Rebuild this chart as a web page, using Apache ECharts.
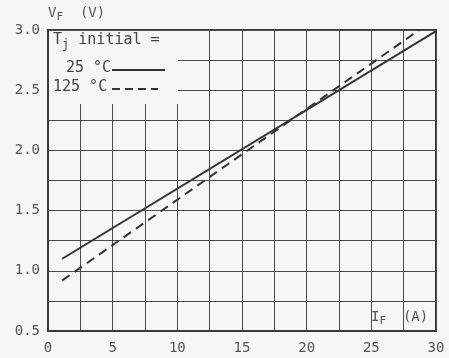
<!DOCTYPE html>
<html><head><meta charset="utf-8">
<script src="https://cdn.jsdelivr.net/npm/echarts@6/dist/echarts.min.js"></script>
<style>html,body{margin:0;padding:0;background:#f6f6f4}#c{width:449px;height:358px}</style>
</head><body><div id="c"></div>
<script>
// Data
const xTickLabels = ['0','5','10','15','20','25','30'];
const yTickLabels = ['0.5','1.0','1.5','2.0','2.5','3.0'];
const current25 = [1.1, 30];
const voltage25 = [1.10, 2.99];
const current125 = [1.1, 28.7];
const voltage125 = [0.92, 3.00];
const legendTitle = 'initial =';
const legendLabels = ['25 °C', '125 °C'];

const FONT = '"DejaVu Sans Mono", "Liberation Mono", monospace';
const INK = '#3a3a3a';
const chart = echarts.init(document.getElementById('c'));
const pairs = (xs, ys) => xs.map((x, i) => [x, ys[i]]);
const richSub = (fill, size) => ({
  a: {fontFamily: FONT, fontSize: size, fill: fill},
  s: {fontFamily: FONT, fontSize: size - 3, fill: fill, padding: [9, 0, 0, 0]}
});

chart.setOption({
  backgroundColor: '#f6f6f4',
  animation: false,
  grid: {left: 48, right: 13, top: 30, bottom: 27, show: true, borderColor: INK, borderWidth: 2, backgroundColor: 'transparent'},
  xAxis: {
    type: 'value', min: 0, max: 30, interval: 2.5,
    axisLine: {show: true, lineStyle: {color: INK, width: 2}},
    axisTick: {show: false},
    splitLine: {show: true, lineStyle: {color: '#4a4a4a', width: 1}},
    axisLabel: {
      color: '#555', fontFamily: FONT, fontSize: 14, margin: 10,
      formatter: v => (v % 5 === 0 ? xTickLabels[v / 5] : '')
    }
  },
  yAxis: {
    type: 'value', min: 0.5, max: 3.0, interval: 0.25,
    axisLine: {show: true, lineStyle: {color: INK, width: 2}},
    axisTick: {show: false},
    splitLine: {show: true, lineStyle: {color: '#4a4a4a', width: 1}},
    axisLabel: {
      color: '#555', fontFamily: FONT, fontSize: 14, margin: 8,
      formatter: v => {
        const k = Math.round((v - 0.5) / 0.5 * 1000) / 1000;
        return Number.isInteger(k) ? yTickLabels[k] : '';
      }
    }
  },
  series: [
    {type: 'line', data: pairs(current25, voltage25), symbol: 'none', z: 5,
     lineStyle: {color: '#333', width: 2, type: 'solid'}},
    {type: 'line', data: pairs(current125, voltage125), symbol: 'none', z: 5,
     lineStyle: {color: '#333', width: 2, type: [9, 6]}}
  ],
  graphic: [
    {type: 'rect', left: 49, top: 31, shape: {width: 129, height: 73}, style: {fill: '#f6f6f4'}, z: 10},
    {type: 'text', left: 48, top: 6, z: 11, style: {rich: richSub('#555', 14), text: '{a|V}{s|F}{a|  (V)}'}},
    {type: 'text', left: 371, top: 310, z: 11, style: {rich: richSub('#555', 14), text: '{a|I}{s|F}{a|  (A)}'}},
    {type: 'text', left: 53, top: 33, z: 11, style: {rich: richSub('#444', 15), text: '{a|T}{s|j}{a| ' + legendTitle + '}'}},
    {type: 'text', left: 66, top: 61, z: 11, style: {text: legendLabels[0], fontFamily: FONT, fontSize: 15, fill: '#444'}},
    {type: 'line', z: 11, shape: {x1: 112, y1: 70, x2: 165, y2: 70}, style: {stroke: '#333', lineWidth: 2}},
    {type: 'text', left: 53, top: 80, z: 11, style: {text: legendLabels[1], fontFamily: FONT, fontSize: 15, fill: '#444'}},
    {type: 'line', z: 11, shape: {x1: 112, y1: 89, x2: 158, y2: 89}, style: {stroke: '#333', lineWidth: 2, lineDash: [8, 5]}}
  ]
});
</script></body></html>
